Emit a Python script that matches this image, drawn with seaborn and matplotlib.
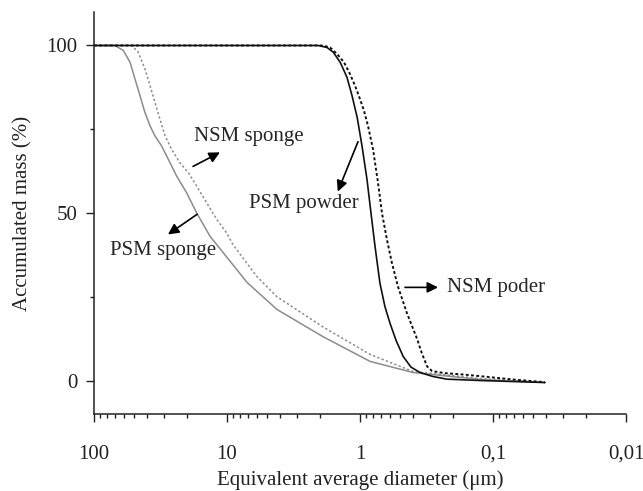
import numpy as np
import pandas as pd
import matplotlib
matplotlib.use("Agg")
import matplotlib.pyplot as plt
import seaborn as sns
from matplotlib.ticker import FixedLocator, NullFormatter

# === data (diameter in um, accumulated mass in %) ===
psm_sponge_x = [100, 69.5, 60.2, 53.6, 49.2, 45.1, 41.4, 37.9, 34.8, 31.0, 27.6,
                23.9, 20.1, 16.9, 13.4, 10.7, 7.08, 4.21, 1.90, 0.84, 0.40,
                0.125, 0.0407]
psm_sponge_y = [100, 100, 98.5, 95, 90, 85, 80, 76, 73, 70, 66,
                61, 56, 50, 43, 38.2, 29.3, 21.2, 13.1, 5.7, 2.4,
                0.3, -0.6]

nsm_sponge_x = [100, 52.1, 46.5, 41.4, 37.9, 34.8, 31.9, 29.2, 26.1, 22.6, 19.5,
                16.9, 14.2, 11.9, 10.05, 9.0, 5.95, 4.21, 1.90, 0.84, 0.40,
                0.125, 0.0407]
nsm_sponge_y = [100, 100, 98, 93, 88, 83, 78, 73, 69, 65, 62,
                58, 53, 48, 44, 40.5, 31, 25, 16, 7.8, 2.7,
                0.6, -0.6]

psm_powder_x = [100, 2.07, 1.77, 1.59, 1.41, 1.253, 1.148, 1.05, 0.966, 0.886,
                0.827, 0.771, 0.708, 0.649, 0.594, 0.536, 0.474, 0.414, 0.354,
                0.283, 0.222, 0.125, 0.0407]
psm_powder_y = [100, 100, 99.4, 98, 95, 90.5, 85, 78.5, 70, 60,
                50, 40, 29, 22, 17, 12, 7.2, 4, 2.4,
                1.2, 0.4, 0.0, -0.6]

nsm_poder_x = [100, 1.90, 1.68, 1.49, 1.32, 1.19, 1.09, 1.0, 0.933, 0.871,
               0.798, 0.732, 0.684, 0.627, 0.575, 0.518, 0.443, 0.373, 0.342,
               0.313, 0.287, 0.230, 0.168, 0.105, 0.0708, 0.0407]
nsm_poder_y = [100, 100, 99.4, 97.5, 95, 91.5, 88, 84, 80.5, 76,
               69, 59, 50, 42, 35, 28, 20, 12.5, 8,
               4.2, 2.8, 2.2, 1.8, 1.0, 0.3, -0.5]

x_ticks = [100, 10, 1, 0.1, 0.01]
x_ticklabels = ["100", "10", "1", "0,1", "0,01"]
y_ticks = [0, 50, 100]

sns.set_style("ticks")
plt.rcParams['font.family'] = ['Liberation Serif', 'DejaVu Serif']

fig = plt.figure(figsize=(6.43, 4.91), dpi=100)
ax = fig.add_axes([0.1462, 0.1568, 0.8274, 0.8188])

series = [
    (psm_sponge_x, psm_sponge_y, "#8c8c8c", "-", 1.1),
    (nsm_sponge_x, nsm_sponge_y, "#8c8c8c", (0, (1.5, 1.5)), 1.1),
    (psm_powder_x, psm_powder_y, "#111111", "-", 1.2),
    (nsm_poder_x, nsm_poder_y, "#111111", (0, (1.5, 1.2)), 1.4),
]
for xs, ys, col, ls, lw in series:
    d = pd.DataFrame({"d": xs, "m": ys})
    sns.lineplot(data=d, x="d", y="m", ax=ax, color=col, linestyle=ls,
                 linewidth=lw, sort=False, estimator=None)

ax.set_xscale("log")
ax.set_xlim(100, 0.01)
ax.set_ylim(-10, 110)

ax.xaxis.set_major_locator(FixedLocator(x_ticks))
ax.set_xticklabels(x_ticklabels)
minors = [m * 10.0 ** e for e in range(-2, 2) for m in range(2, 10)]
ax.xaxis.set_minor_locator(FixedLocator(minors))
ax.xaxis.set_minor_formatter(NullFormatter())
ax.yaxis.set_major_locator(FixedLocator(y_ticks))
ax.yaxis.set_minor_locator(FixedLocator([25, 75]))

ax.tick_params(which="major", length=6, width=1, direction="out",
               labelsize=15, colors="#222222", pad=16)
ax.tick_params(axis="y", which="major", pad=6)
ax.tick_params(which="minor", length=3, width=1, direction="out", colors="#222222")

sns.despine(ax=ax)
for s in ("left", "bottom"):
    ax.spines[s].set_linewidth(1.1)
    ax.spines[s].set_color("#222222")

ax.set_xlabel("Equivalent average diameter (\u03bcm)", fontsize=15, labelpad=5,
              color="#222222")
ax.set_ylabel("Accumulated mass (%)", fontsize=15, labelpad=10, color="#222222")

arrow = dict(arrowstyle="-|>", color="black", lw=1.2, mutation_scale=16,
             shrinkA=0, shrinkB=0)
ax.annotate("", xy=(11.3, 68.1), xytext=(18.0, 63.9), arrowprops=arrow)
ax.text(6.84, 72.8, "NSM sponge", fontsize=15, ha="center", va="center")

ax.annotate("", xy=(1.47, 56.4), xytext=(1.035, 71.3), arrowprops=arrow)
ax.text(2.64, 52.8, "PSM powder", fontsize=15, ha="center", va="center")

ax.annotate("", xy=(27.8, 43.6), xytext=(16.8, 49.6), arrowprops=arrow)
ax.text(30.3, 38.8, "PSM sponge", fontsize=15, ha="center", va="center")

ax.annotate("", xy=(0.259, 27.8), xytext=(0.459, 27.8), arrowprops=arrow)
ax.text(0.222, 27.8, "NSM poder", fontsize=15, ha="left", va="center")

plt.savefig("out.png", dpi=100)
